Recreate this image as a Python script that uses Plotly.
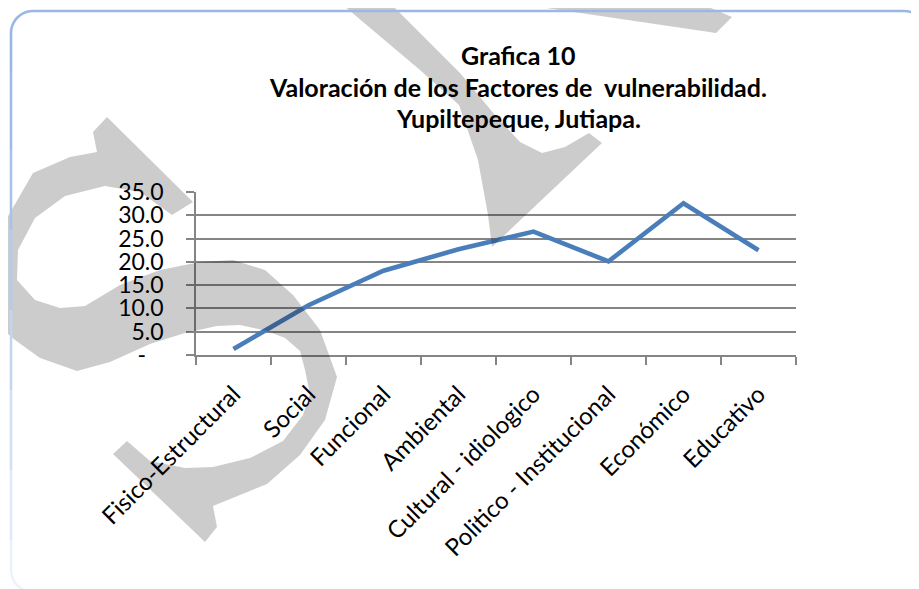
import math
import plotly.graph_objects as go

# ---------------- data ----------------
categories = ["Fisico-Estructural", "Social", "Funcional", "Ambiental",
              "Cultural - idiologico", "Politico - Institucional", "Económico", "Educativo"]
values = [1.3, 10.7, 18.1, 22.7, 26.5, 20.1, 32.6, 22.5]
y_tickvals = [0, 5, 10, 15, 20, 25, 30, 35]
y_ticktext = ["-\u00a0\u00a0\u00a0", "5.0", "10.0", "15.0", "20.0", "25.0", "30.0", "35.0"]
title_lines = ["Grafica 10",
               "Valoración de los Factores de\u00a0 vulnerabilidad.",
               "Yupiltepeque, Jutiapa."]

# ---------------- geometry (reference pixel space) ----------------
OFF = 8                      # page body margin of the html page
W, H = 919 - OFF, 589 - OFF  # figure size so it ends at the window edge
PL, PR, PT, PB = 196, 796, 192, 355   # plot area in window pixels


def pp(x, y):
    return ((x - PL) / (PR - PL), (PB - y) / (PB - PT))


def path(points, close=True):
    s = []
    for i, (x, y) in enumerate(points):
        px, py = pp(x, y)
        s.append(("M" if i == 0 else "L") + f"{px:.5f},{py:.5f}")
    return " ".join(s) + (" Z" if close else "")


FONT = "Lato, Carlito, Calibri, sans-serif"
GRAY = "#858585"

fig = go.Figure()
fig.add_trace(go.Scatter(x=categories, y=values, mode="lines",
                         line=dict(color="#4a7ebb", width=4.6),
                         hoverinfo="x+y", showlegend=False))

# title lines
title_y = [55, 87, 118]
for txt, ty in zip(title_lines, title_y):
    ax, ay = pp(518, ty)
    fig.add_annotation(text=f"<b>{txt}</b>", x=ax, y=ay, xref="paper", yref="paper",
                       xanchor="center", yanchor="middle", showarrow=False,
                       font=dict(family=FONT, size=25, color="black"))

shapes = []
# watermark (scan artefact) - translucent grey
wm = dict(type="path", xref="paper", yref="paper", fillcolor="rgba(0,0,0,0.2)",
          line=dict(width=0), layer="above")
left_shape = [(0, 230), (33, 173), (70, 157), (97, 152), (93, 132), (107, 117), (193, 202),
              (172, 215), (140, 192), (105, 186), (65, 196), (35, 218), (18, 250), (17, 280),
              (35, 300), (60, 308), (85, 306), (120, 285), (160, 270), (200, 262), (233, 260),
              (265, 270), (293, 295), (320, 330), (337, 377), (325, 420), (300, 455),
              (267, 484), (213, 506), (217, 527), (205, 542), (113, 454), (127, 441),
              (150, 461), (185, 468), (213, 467), (250, 458), (283, 441), (303, 415),
              (310, 394), (305, 370), (300, 351), (285, 338), (267, 331), (240, 325),
              (217, 326), (185, 333), (150, 344), (110, 362), (77, 371), (40, 358),
              (15, 340), (0, 327)]
v_shape = [(337, 0), (420, 70), (459, 105), (478, 160), (488, 215), (492, 247), (602, 143),
           (589, 133), (565, 147), (542, 153), (520, 142), (495, 115), (460, 73), (387, 0)]
top_band = [(492, 0), (716, 33), (732, 17), (692, 0)]
tiny = [(238, 0), (253, 0), (245, 6)]
for pts in (left_shape, v_shape, top_band, tiny):
    shapes.append(dict(wm, path=path(pts)))

# rounded frame
x0, y0, x1, y1, r = 11, 11, 926, 592, 22
top_path = [(x0, y0 + r + 40)]
for k in range(0, 11):
    a = math.pi - (math.pi / 2) * k / 10
    top_path.append((x0 + r + r * math.cos(a), y0 + r - r * math.sin(a)))
top_path.append((x1 - r, y0))
for k in range(0, 11):
    a = math.pi / 2 - (math.pi / 2) * k / 10
    top_path.append((x1 - r + r * math.cos(a), y0 + r - r * math.sin(a)))
shapes.append(dict(type="path", xref="paper", yref="paper", path=path(top_path, close=False),
                   line=dict(color="#9ab8e4", width=2.6), layer="above"))
left_cols = ["#a0bce6", "#a9c2e8", "#b5cbec", "#c3d5f0", "#d2e0f4", "#e0e9f7", "#ebf1fa"]
seg_y = [y0 + r + 40, 150, 230, 310, 390, 470, 540, y1 - r]
for i, col in enumerate(left_cols):
    shapes.append(dict(type="path", xref="paper", yref="paper",
                       path=path([(x0, seg_y[i]), (x0, seg_y[i + 1])], close=False),
                       line=dict(color=col, width=2.6), layer="above"))
bl = [(x0, y1 - r)]
for k in range(0, 11):
    a = math.pi + (math.pi / 2) * k / 10
    bl.append((x0 + r + r * math.cos(a), y1 - r - r * math.sin(a)))
bl.append((x1, y1))
shapes.append(dict(type="path", xref="paper", yref="paper", path=path(bl, close=False),
                   line=dict(color="#eef3fb", width=2.6), layer="above"))

fig.update_layout(
    width=W, height=H,
    margin=dict(l=PL - OFF, r=W - (PR - OFF), t=PT - OFF, b=H - (PB - OFF), pad=0),
    paper_bgcolor="white", plot_bgcolor="white",
    font=dict(family=FONT, size=22, color="black"),
    showlegend=False,
    shapes=shapes,
    xaxis=dict(type="category", tickangle=-45, ticks="outside", tickson="boundaries",
               ticklen=8, tickwidth=1.6, tickcolor=GRAY, showline=True, linecolor=GRAY,
               linewidth=1.6, showgrid=False, zeroline=False, ticklabelstandoff=14,
               tickfont=dict(family=FONT, size=24, color="black"),
               range=[-0.5, len(categories) - 0.5]),
    yaxis=dict(range=[0, 35], tickvals=y_tickvals, ticktext=y_ticktext, ticks="outside",
               ticklen=8, tickwidth=1.6, tickcolor=GRAY, showline=True, linecolor=GRAY,
               linewidth=1.6, showgrid=True, gridcolor=GRAY, gridwidth=1.6, zeroline=False,
               ticklabelstandoff=18, tickfont=dict(family=FONT, size=23, color="black")),
)

fig.write_html("out.html")
